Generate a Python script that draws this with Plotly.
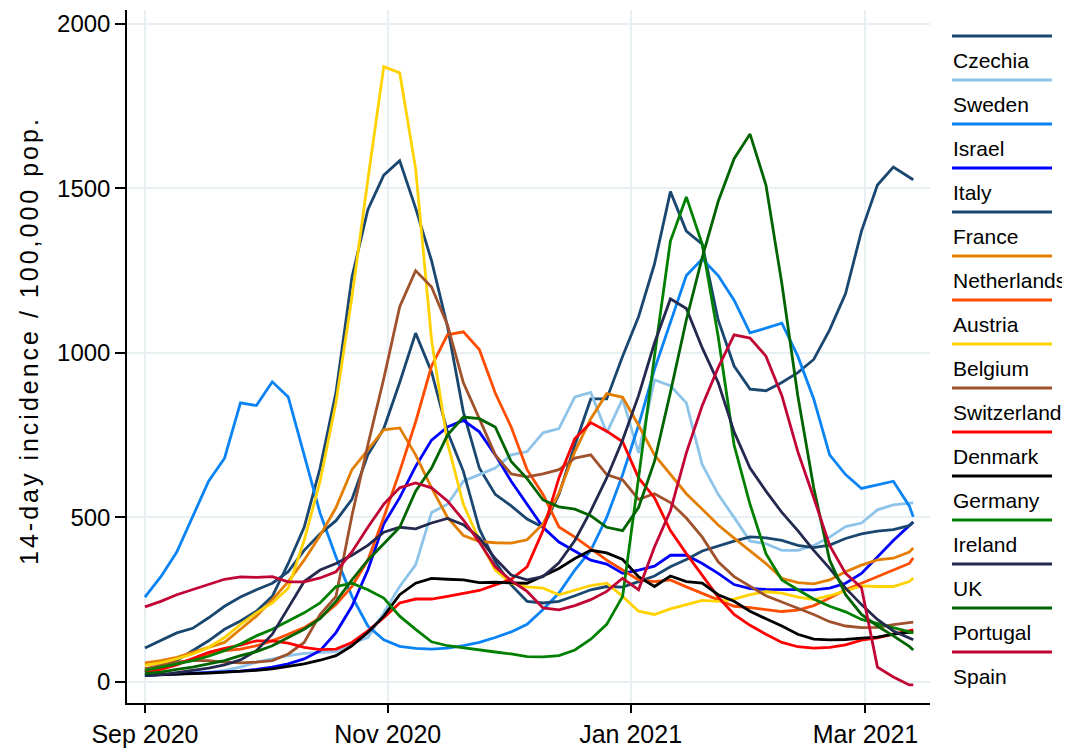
import plotly.graph_objects as go
import pandas as pd

# 4-day sampling from 1 Sep 2020, last point 13 Mar 2021
dates = list(pd.date_range("2020-09-01", "2021-03-12", freq="4D").strftime("%Y-%m-%d")) + ["2021-03-13"]

countries = ["Czechia", "Sweden", "Israel", "Italy", "France", "Netherlands", "Austria",
             "Belgium", "Switzerland", "Denmark", "Germany", "Ireland", "UK", "Portugal", "Spain"]

colors = ["#1a476f", "#8ec4ea", "#0a84f5", "#0000ff", "#1a476f", "#e37e00", "#ff4d00",
          "#ffd200", "#a0522d", "#ff0000", "#000000", "#008000", "#23294f", "#006400", "#c10534"]

czechia = [30, 45, 65, 95, 125, 160, 185, 215, 260, 360, 470, 650, 880, 1230, 1435, 1540, 1584, 1440, 1280, 1080,
           820, 650, 570, 535, 495, 470, 570, 720, 860, 860, 990, 1110, 1270, 1490, 1370, 1330, 1100, 960, 890, 885,
           910, 940, 980, 1070, 1180, 1370, 1510, 1565, 1535, 1526]
sweden = [20, 22, 24, 27, 30, 35, 45, 60, 70, 80, 87, 90, 92, 118, 135, 210, 290, 356, 515, 540,
          610, 630, 650, 690, 700, 757, 770, 866, 880, 757, 860, 696, 918, 900, 848, 660, 570, 500, 428, 420,
          400, 400, 415, 440, 472, 483, 523, 538, 542, 544]
israel = [258, 320, 395, 500, 610, 680, 848, 840, 912, 866, 690, 513, 380, 260, 170, 128, 108, 102, 100, 103,
          110, 120, 135, 152, 175, 220, 270, 340, 400, 500, 630, 780, 950, 1090, 1235, 1285, 1235, 1160, 1061, 1075,
          1090, 990, 860, 690, 630, 588, 600, 610, 535, 502]
italy = [20, 22, 24, 26, 28, 30, 33, 38, 45, 55, 70, 95, 150, 230, 340, 480, 560, 655, 735, 775,
         795, 760, 690, 610, 540, 470, 425, 398, 370, 358, 330, 340, 352, 385, 385, 360, 330, 296, 284, 281,
         280, 280, 280, 285, 300, 330, 380, 430, 475, 486]
france = [103, 125, 149, 163, 195, 230, 258, 280, 300, 335, 400, 450, 490, 555, 690, 770, 910, 1060, 942, 760,
          640, 465, 365, 295, 245, 240, 245, 262, 280, 290, 288, 305, 322, 350, 372, 398, 414, 428, 441, 438,
          430, 415, 408, 416, 436, 450, 458, 463, 475, 486]
netherlands = [58, 65, 75, 90, 105, 120, 160, 200, 250, 305, 370, 445, 530, 645, 705, 766, 772, 690, 590, 500,
               445, 427, 423, 422, 432, 480, 574, 700, 800, 876, 865, 780, 690, 632, 572, 525, 477, 437, 398, 360,
               315, 302, 298, 310, 335, 355, 371, 376, 395, 407]
austria = [40, 45, 55, 70, 85, 95, 100, 110, 125, 145, 165, 195, 235, 290, 370, 500, 640, 790, 960, 1055,
           1064, 1010, 878, 775, 645, 570, 471, 440, 405, 370, 340, 310, 305, 310, 289, 270, 250, 230, 226, 220,
           214, 218, 232, 255, 280, 300, 320, 340, 360, 377]
belgium = [50, 58, 70, 85, 105, 135, 175, 210, 240, 285, 430, 610, 850, 1170, 1526, 1870, 1851, 1560, 1040, 726,
           540, 430, 340, 300, 289, 285, 265, 280, 293, 300, 260, 215, 205, 222, 235, 248, 245, 252, 265, 274,
           270, 258, 250, 262, 277, 292, 290, 290, 305, 316]
switzerland = [40, 50, 60, 65, 65, 60, 58, 60, 65, 85, 120, 205, 260, 505, 720, 922, 1140, 1250, 1200, 1085,
               909, 800, 690, 632, 623, 632, 645, 680, 690, 630, 614, 555, 572, 545, 498, 440, 365, 320, 290, 262,
               243, 224, 205, 183, 170, 165, 166, 174, 179, 182]
denmark = [30, 38, 52, 70, 90, 102, 112, 125, 125, 118, 105, 98, 100, 120, 155, 195, 240, 252, 252, 260,
           270, 278, 295, 312, 350, 460, 620, 740, 788, 762, 730, 620, 560, 460, 390, 325, 258, 205, 172, 145,
           120, 107, 103, 105, 113, 127, 134, 145, 155, 158]
germany = [20, 21, 23, 25, 27, 29, 32, 35, 40, 48, 55, 66, 80, 110, 150, 200, 265, 300, 315, 312,
           310, 302, 303, 301, 300, 322, 345, 375, 400, 392, 372, 320, 290, 322, 305, 300, 265, 245, 215, 192,
           170, 145, 130, 128, 129, 133, 136, 145, 150, 152]
ireland = [35, 45, 55, 65, 78, 95, 115, 140, 160, 185, 210, 240, 290, 300, 280, 255, 200, 160, 122, 110,
           103, 97, 91, 85, 77, 76, 80, 97, 130, 175, 260, 620, 990, 1340, 1474, 1330, 1050, 720, 540, 390,
           310, 280, 252, 230, 213, 190, 177, 165, 152, 149]
uk = [20, 22, 28, 35, 42, 52, 67, 95, 145, 225, 305, 340, 360, 385, 415, 455, 470, 465, 483, 497,
      478, 438, 375, 325, 310, 320, 362, 430, 520, 620, 735, 870, 1030, 1164, 1135, 1015, 910, 760, 650, 580,
      515, 460, 400, 345, 285, 235, 190, 155, 132, 128]
portugal = [25, 30, 38, 45, 55, 65, 80, 92, 110, 135, 160, 192, 245, 310, 370, 420, 470, 580, 650, 750,
            805, 800, 775, 670, 618, 553, 532, 525, 505, 470, 460, 530, 670, 880, 1100, 1290, 1460, 1590, 1665, 1510,
            1210, 870, 590, 370, 265, 205, 170, 140, 108, 97]
spain = [228, 245, 265, 280, 295, 312, 319, 318, 320, 304, 304, 316, 335, 395, 470, 540, 590, 605, 590, 550,
         492, 425, 350, 308, 275, 225, 219, 232, 250, 275, 315, 280, 410, 520, 696, 840, 955, 1055, 1045, 990,
         870, 700, 560, 415, 330, 286, 45, 15, -9, -9]

series = [czechia, sweden, israel, italy, france, netherlands, austria, belgium, switzerland,
          denmark, germany, ireland, uk, portugal, spain]

xtick_vals = ["2020-09-01", "2020-11-01", "2021-01-01", "2021-03-01"]
xtick_text = ["Sep 2020", "Nov 2020", "Jan 2021", "Mar 2021"]
ytick_vals = [0, 500, 1000, 1500, 2000]
y_title = "14-day incidence / 100,000 pop."

FONT = "Liberation Sans, Arial, sans-serif"
# the page body adds an 8px offset, so the figure is drawn 8px smaller and all
# pixel positions below are relative to the figure's own top-left corner
OFF = 8
W, H = 1070 - OFF, 749 - OFF
L, R, T, B = 127 - OFF, 930 - OFF, 10 - OFF, 703 - OFF

fig = go.Figure()
for name, col, vals in zip(countries, colors, series):
    fig.add_trace(go.Scatter(x=dates, y=vals, mode="lines", name=name,
                             line=dict(color=col, width=2.8), showlegend=False))


def py(ypix):
    return (B - (ypix - OFF)) / (B - T)


def px(xpix):
    return ((xpix - OFF) - L) / (R - L)


# hand-built legend: a coloured line above each label
for k, (name, col) in enumerate(zip(countries, colors)):
    yl = 36 + 44 * k
    fig.add_shape(type="line", xref="paper", yref="paper",
                  x0=px(952), x1=px(1052), y0=py(yl), y1=py(yl),
                  line=dict(color=col, width=3))
    fig.add_annotation(xref="paper", yref="paper", x=px(951), y=py(yl + 24.5),
                       text=name, showarrow=False, xanchor="left", yanchor="middle",
                       font=dict(family=FONT, size=21, color="#000000"))

# y-axis title
fig.add_annotation(xref="paper", yref="paper", x=px(29), y=py(341), textangle=-90,
                   text='<span style="letter-spacing:3px">' + y_title + '</span>',
                   showarrow=False, xanchor="center", yanchor="middle",
                   font=dict(family=FONT, size=25, color="#000000"))

grid = "#e8f0f3"
fig.update_layout(
    width=W, height=H,
    margin=dict(l=L, r=W - R, t=T, b=H - B, autoexpand=False),
    plot_bgcolor="white", paper_bgcolor="white",
    font=dict(family=FONT, size=24, color="#000000"),
    xaxis=dict(range=["2020-08-27 12:00", "2021-03-17 05:00"], tickmode="array",
               tickvals=xtick_vals, ticktext=xtick_text, showgrid=True, gridcolor=grid, gridwidth=2,
               showline=True, linecolor="#000000", linewidth=1.5, ticks="outside", ticklen=8,
               tickwidth=1.5, tickcolor="#000000", zeroline=False, automargin=False,
               tickfont=dict(family=FONT, size=25, color="#000000")),
    yaxis=dict(range=[-64, 2042], tickmode="array", tickvals=ytick_vals,
               showgrid=True, gridcolor=grid, gridwidth=2,
               showline=True, linecolor="#000000", linewidth=1.5, ticks="outside", ticklen=10,
               tickwidth=1.5, tickcolor="#000000", zeroline=False, automargin=False,
               tickfont=dict(family=FONT, size=24, color="#000000")),
)

fig.write_html("out.html")
